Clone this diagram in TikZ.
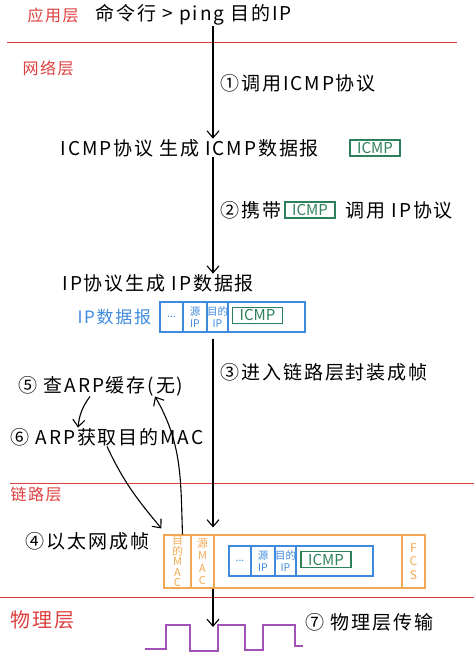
\documentclass[tikz,border=0pt]{standalone}
\usepackage{fontspec}
\newfontfamily\cjk{Noto Sans CJK SC}
\newfontfamily\cjkwide[LetterSpace=10]{Noto Sans CJK SC}
\usetikzlibrary{arrows.meta}
\definecolor{layerred}{RGB}{222,62,62}
\definecolor{ipblue}{RGB}{62,138,222}
\definecolor{icmpgreen}{RGB}{45,128,92}
\definecolor{macorange}{RGB}{242,168,82}
\definecolor{sigpurple}{RGB}{160,82,182}

\begin{document}
\begin{tikzpicture}[
  x=1pt,y=-1pt,
  line width=1.1pt,
  txt/.style={font=\cjkwide\fontsize{19}{22}\selectfont,inner sep=0pt,anchor=west},
  layer/.style={font=\cjkwide\fontsize{16}{18}\selectfont,text=layerred,inner sep=0pt,anchor=west},
  arr/.style={-{Straight Barb[length=7pt,width=12pt]}},
  icmpbox/.style={draw=icmpgreen,text=icmpgreen,font=\cjk\fontsize{15}{15}\selectfont,minimum width=50pt,minimum height=16pt,inner sep=0pt},
  ipcell/.style={draw=ipblue,text=ipblue,font=\cjk\fontsize{10.5}{11.5}\selectfont,minimum height=30pt,inner sep=0pt,align=center},
  maccell/.style={draw=macorange,text=macorange,font=\cjk\fontsize{11}{10.5}\selectfont,minimum height=53pt,inner sep=0pt,align=center},
  sep/.style={draw=layerred,line width=1pt},
  wave/.style={draw=sigpurple,line width=1.6pt}
]
  \useasboundingbox (0,0) rectangle (474,652);
  \coordinate (axis) at (213,0);
  \coordinate (sig) at (213,627);

  \draw[sep] (7,43) -- (457,43);
  \draw[sep] (10,483) -- (474,483);
  \draw[sep] (0,597) -- (474,597);

  \node[layer] (app) at (27,15) {应用层};
  \node[layer] (net) at (22,68) {网络层};
  \node[layer] (link) at (10,494) {链路层};
  \node[layer,font=\cjkwide\fontsize{20}{22}\selectfont] (phy) at (10,620) {物理层};

  \node[txt] (cmd) at (95,15) {命令行 > ping 目的IP};
  \node[txt] (step1) at (220,83) {①调用ICMP协议};
  \node[txt] (icmpgen) at (60,148) {ICMP协议 生成 ICMP数据报};
  \node[icmpbox] (icmp1) at (375,148) {ICMP};
  \node[txt] (step2) at (220,210) {②携带};
  \node[icmpbox] (icmp2) at (310,210) {ICMP};
  \node[txt] (step2b) at (345,210) {调用 IP协议};
  \node[txt] (ipgen) at (62,283) {IP协议生成 IP数据报};

  \node[txt,text=ipblue,font=\cjkwide\fontsize{17}{20}\selectfont] (iplabel) at (77,317) {IP数据报};
  \node[ipcell,minimum width=23pt] (ipdots) at (171.5,317) {...};
  \node[ipcell,minimum width=24pt] (ipsrc) at (195,317) {源\\IP};
  \node[ipcell,minimum width=21pt] (ipdip) at (217.5,317) {目的\\IP};
  \node[ipcell,minimum width=77pt] (iprest) at (266.5,317) {};
  \node[icmpbox] (icmp3) at (257.5,315.5) {ICMP};

  \node[txt] (step3) at (220,372) {③进入链路层封装成帧};
  \node[txt] (arp5) at (18,386) {⑤ 查ARP缓存(无)};
  \node[txt] (arp6) at (10,437) {⑥ ARP获取目的MAC};
  \node[txt] (step4) at (25,541) {④以太网成帧};
  \node[txt] (step7) at (305,622) {⑦ 物理层传输};

  \node[maccell,minimum width=27pt] (dmac) at (177.5,561.5) {目\\的\\M\\A\\C};
  \node[maccell,minimum width=23pt,font=\cjk\fontsize{11}{12.5}\selectfont] (smac) at (202.5,561.5) {源\\M\\A\\C};
  \node[maccell,minimum width=188pt] (payload) at (308,561.5) {};
  \node[maccell,minimum width=23pt,font=\cjk\fontsize{12}{13.5}\selectfont] (fcs) at (413.5,561.5) {F\\C\\S};
  \node[ipcell,minimum width=22pt] (fdots) at (240,561) {...};
  \node[ipcell,minimum width=24pt] (fsrc) at (263,561) {源\\IP};
  \node[ipcell,minimum width=21pt] (fdip) at (285.5,561) {目的\\IP};
  \node[ipcell,minimum width=77pt] (frest) at (334.5,561) {};
  \node[icmpbox] (icmp4) at (326,559.5) {ICMP};

  \draw[arr] (cmd.south -| axis) -- (icmpgen.north -| axis);
  \draw[arr] (icmpgen.south -| axis) -- (ipgen.north -| axis);
  \draw[arr,shorten <=6pt,shorten >=7pt] (ipdip.south -| axis) -- (smac.north -| axis);
  \draw[arr] (smac.south -| axis) -- (sig);

  \draw[arr] ([xshift=72pt]arp5.south west) to[bend right=15] ([xshift=68pt]arp6.north west);
  \draw[arr] ([xshift=97pt]arp6.south west) to[out=-65,in=130] ([shift={(-2pt,6pt)}]dmac.north west);
  \draw[arr] ([xshift=5pt]dmac.north) to[out=92,in=-60] ([xshift=137pt]arp5.south west);

  \draw[wave] (145,649) -| (166,625) -| (190,651) -| (218,625) -| (245,650) -| (263,625) -| (295,646) -- (303,646);
\end{tikzpicture}
\end{document}
